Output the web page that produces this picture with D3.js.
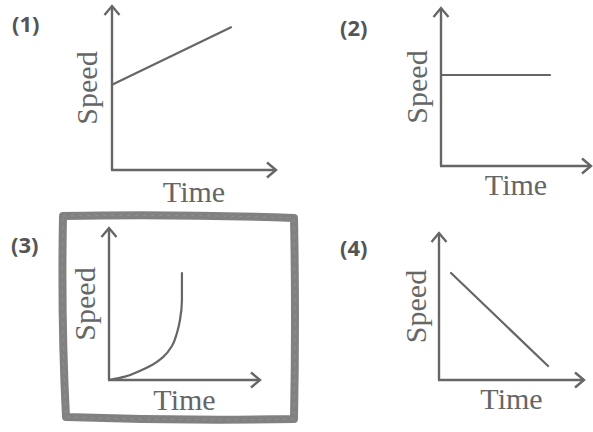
<!DOCTYPE html>
<html><head><meta charset="utf-8">
<script src="https://cdn.jsdelivr.net/npm/d3@7"></script>
<style>html,body{margin:0;padding:0;background:#fff;}</style>
</head><body>
<svg id="c" width="593" height="432"></svg>
<script>
// Panel labels and axis titles
const panelLabels = ["(1)", "(2)", "(3)", "(4)"];
const xTitle = "Time";
const yTitle = "Speed";
// Series values (time, speed) in axis units 0..10 (arrow tip = 10)
const series1 = [[0, 5.2], [7.26, 8.7]];           // increasing speed
const series2 = [[0, 5.76], [7.27, 5.76]];         // constant speed
const series3 = [[0, 0], [1.06, 0.22], [1.92, 0.55], [2.85, 0.99], [3.58, 1.51], [4.17, 2.24], [4.5, 3.09], [4.7, 3.95], [4.83, 5.26], [4.83, 7.04]]; // accelerating curve
const series4 = [[0.83, 7.28], [7.52, 0.95]];      // decreasing speed
const allSeries = [series1, series2, series3, series4];

const svg = d3.select("#c");
const ink = "#666";

svg.append("defs").append("marker")
  .attr("id", "arr").attr("viewBox", "-12 -9 14 18")
  .attr("markerWidth", 14).attr("markerHeight", 18)
  .attr("markerUnits", "userSpaceOnUse")
  .attr("refX", 0).attr("refY", 0).attr("orient", "auto")
  .append("path").attr("d", "M-9,-7.5 L0,0 L-9,7.5")
  .attr("fill", "none").attr("stroke", ink).attr("stroke-width", 2.4)
  .attr("stroke-linejoin", "miter");

// layout of each panel: origin and axis lengths
const layout = [
  {ox: 112, oy: 170, xl: 164, yl: 164, lx: 12,  ly: 32,  sdx: 15, tdy: 32},
  {ox: 441, oy: 166, xl: 150, yl: 158, lx: 340, ly: 36,  sdx: 14, tdy: 29},
  {ox: 109, oy: 380, xl: 151, yl: 152, lx: 11,  ly: 253, sdx: 14, tdy: 30},
  {ox: 439, oy: 380, xl: 145, yl: 147, lx: 340, ly: 256, sdx: 13, tdy: 29}
];

// hand-drawn highlight box around panel 3
const bp = d3.path();
bp.moveTo(63, 216);
bp.quadraticCurveTo(180, 214, 294, 218);
bp.quadraticCurveTo(296, 320, 294, 419);
bp.quadraticCurveTo(180, 421, 66, 417);
bp.quadraticCurveTo(61, 320, 63, 216);
bp.closePath();
svg.append("path").attr("d", bp.toString())
  .attr("fill", "none").attr("stroke", "#7a7a7a").attr("stroke-width", 8)
  .attr("stroke-linejoin", "round").attr("opacity", 0.95);
svg.append("path").attr("d", bp.toString())
  .attr("fill", "none").attr("stroke", "#999").attr("stroke-width", 1.2)
  .attr("stroke-dasharray", "3 5").attr("opacity", 0.6);

layout.forEach((L, i) => {
  const g = svg.append("g");
  const x = d3.scaleLinear().domain([0, 10]).range([L.ox, L.ox + L.xl]);
  const y = d3.scaleLinear().domain([0, 10]).range([L.oy, L.oy - L.yl]);

  // axes
  g.append("line").attr("x1", x(0)).attr("y1", y(0)).attr("x2", x(0)).attr("y2", y(10))
    .attr("stroke", ink).attr("stroke-width", 2.4).attr("marker-end", "url(#arr)");
  g.append("line").attr("x1", x(0) - 1).attr("y1", y(0)).attr("x2", x(10)).attr("y2", y(0))
    .attr("stroke", ink).attr("stroke-width", 2.4).attr("marker-end", "url(#arr)");

  // series
  const line = d3.line().x(d => x(d[0])).y(d => y(d[1]))
    .curve(i === 2 ? d3.curveMonotoneY : d3.curveLinear);
  g.append("path").attr("d", line(allSeries[i]))
    .attr("fill", "none").attr("stroke", ink).attr("stroke-width", 2.2)
    .attr("stroke-linecap", "round");

  // titles
  g.append("text").attr("transform", `translate(${L.ox - L.sdx},${(y(0) + y(10)) / 2}) rotate(-90)`)
    .attr("text-anchor", "middle").attr("font-family", "Liberation Serif")
    .attr("font-size", 30).attr("fill", "#666").text(yTitle);
  g.append("text").attr("x", (x(0) + x(10)) / 2).attr("y", L.oy + L.tdy)
    .attr("text-anchor", "middle").attr("font-family", "Liberation Serif")
    .attr("font-size", 30).attr("fill", "#666").text(xTitle);

  g.append("text").attr("x", L.lx).attr("y", L.ly)
    .attr("font-family", "Open Sans").attr("font-weight", "bold")
    .attr("font-size", 22).attr("fill", "#555").text(panelLabels[i]);
});
</script>
</body></html>
